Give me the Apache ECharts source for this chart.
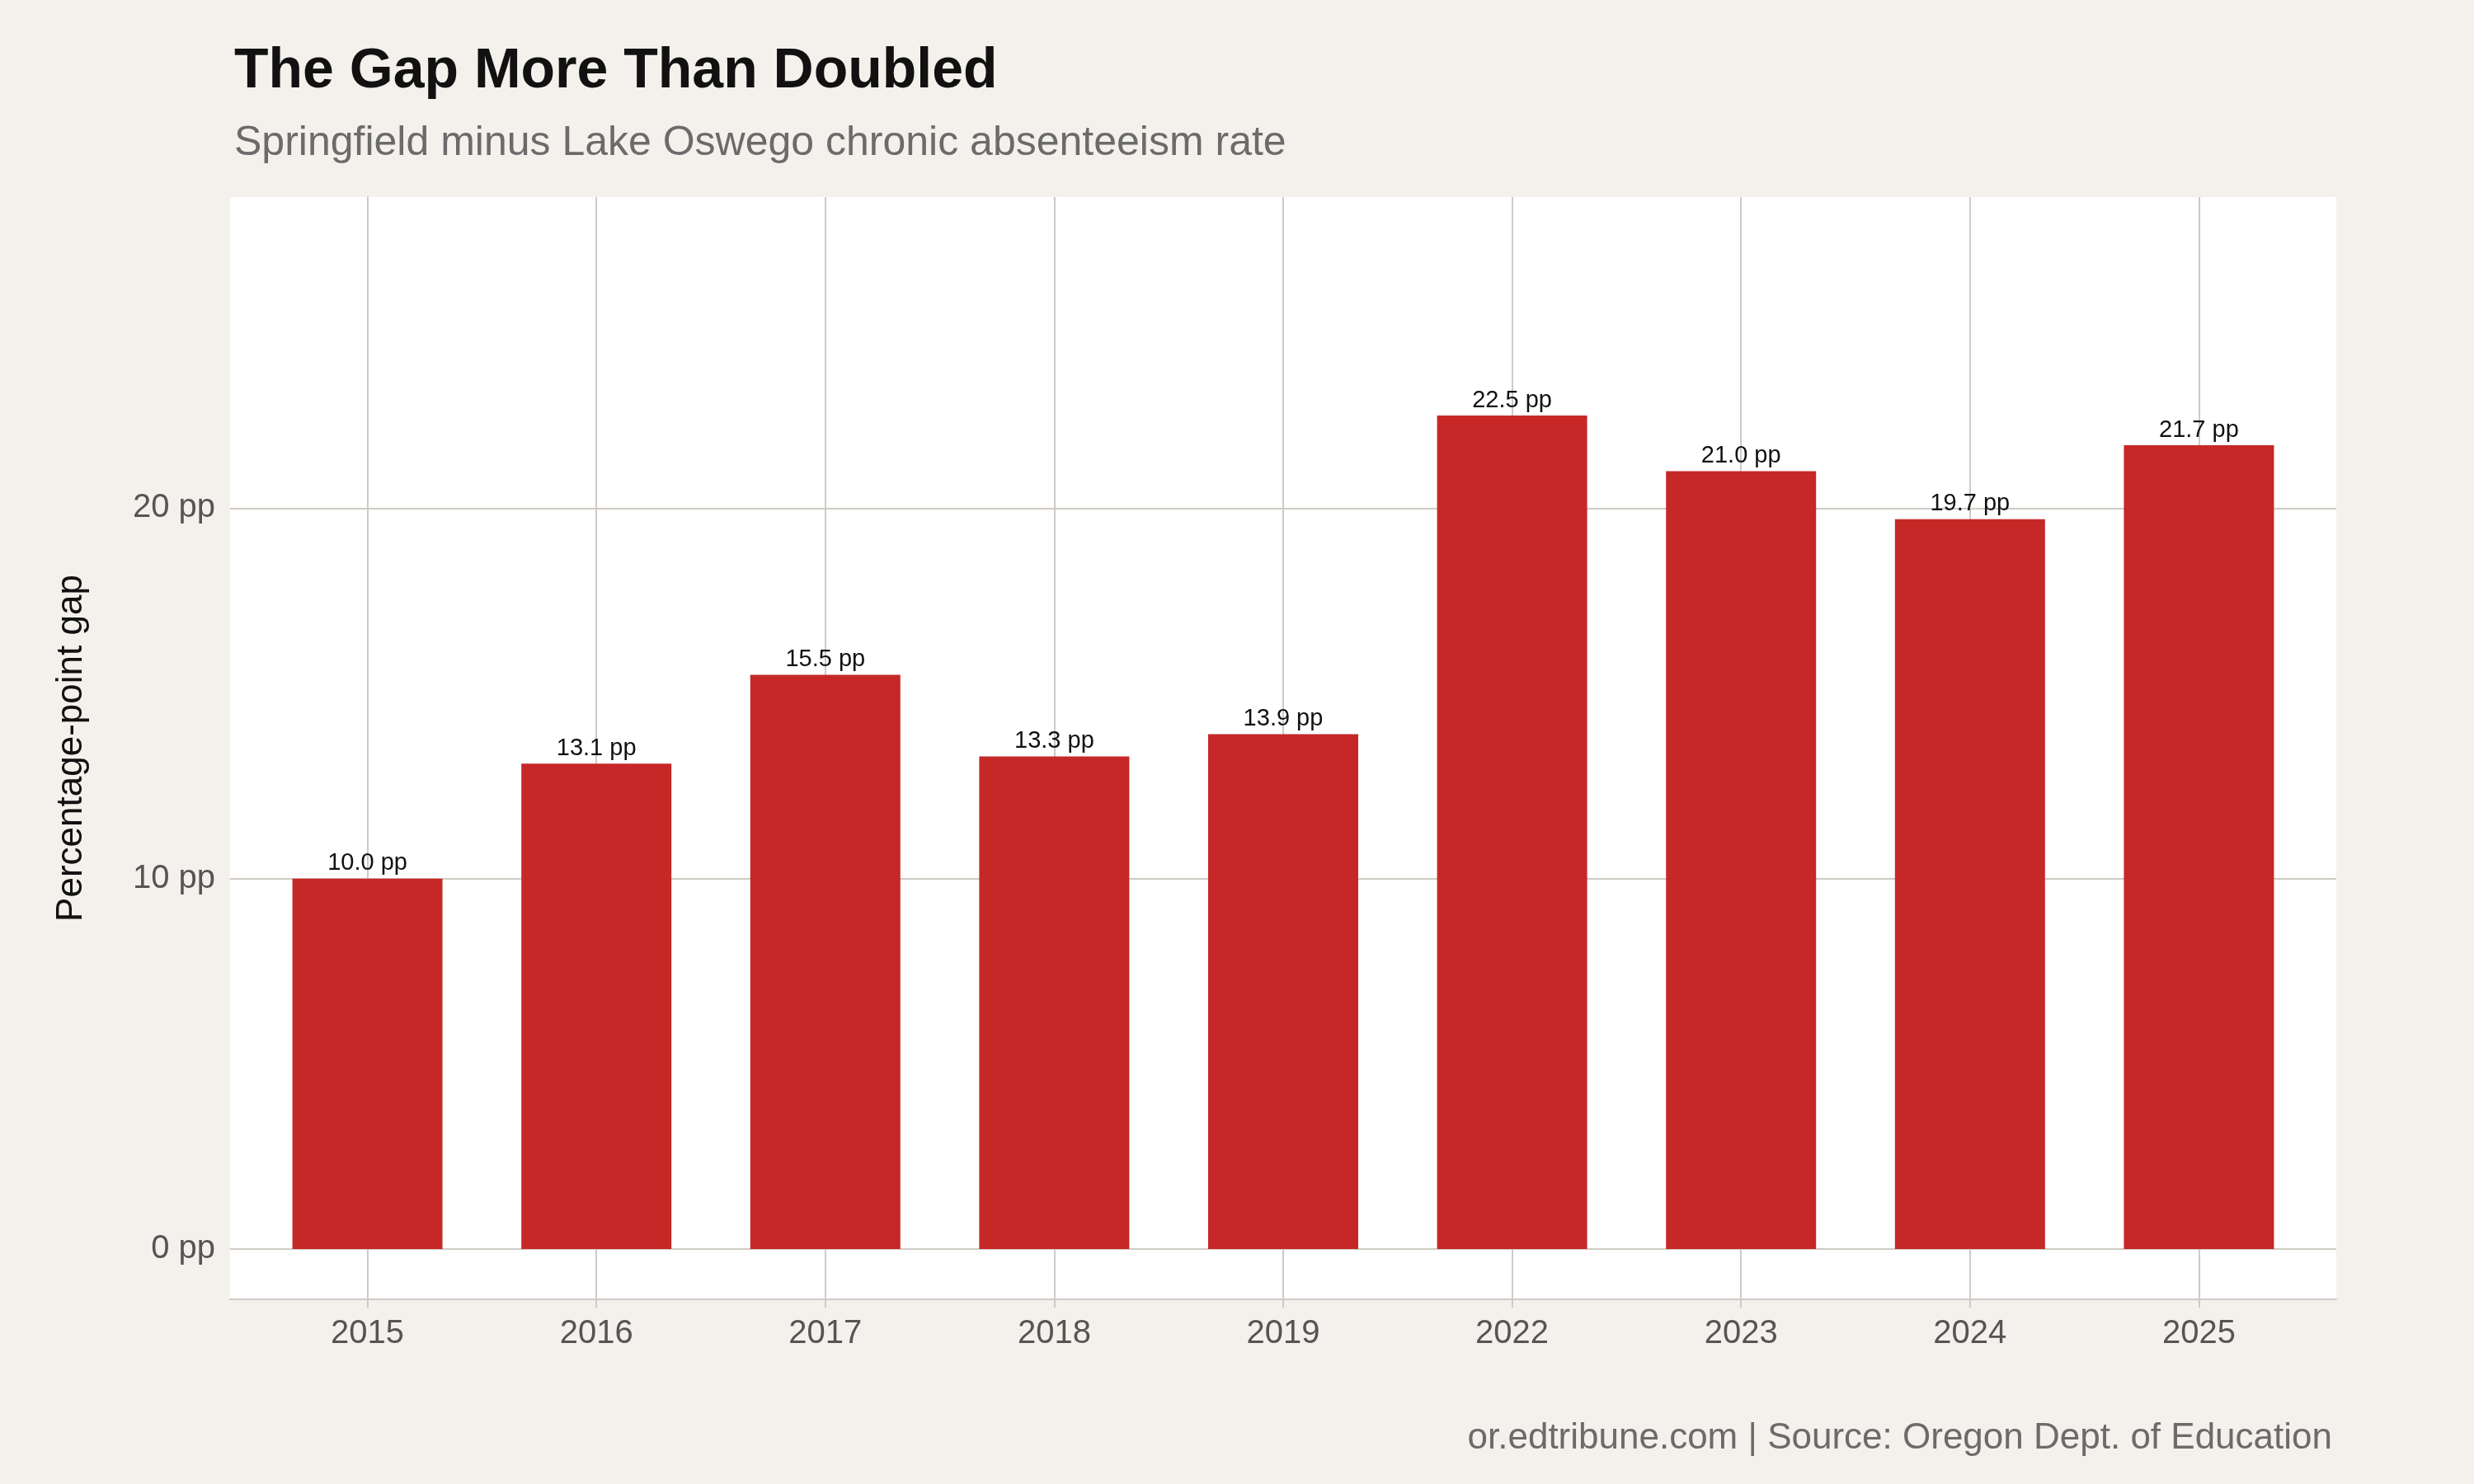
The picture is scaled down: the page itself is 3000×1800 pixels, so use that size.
<!DOCTYPE html>
<html><head><meta charset="utf-8">
<script src="https://cdn.jsdelivr.net/npm/echarts@6/dist/echarts.min.js"></script>
<style>html,body{margin:0;padding:0;background:#f4f1ec}#c{width:3000px;height:1800px}</style>
</head><body><div id="c"></div>
<script>
const categories = ['2015','2016','2017','2018','2019','2022','2023','2024','2025'];
const gapValues = [10.0,13.1,15.5,13.3,13.9,22.5,21.0,19.7,21.7];
const yTicks = [0,10,20];

const F = 'Liberation Sans, Arial, Helvetica, sans-serif';
const grid = '#cfcbc4';
const chart = echarts.init(document.getElementById('c'));
const xIdx = categories.map((c,i)=>i);
chart.setOption({
  backgroundColor:'#f4f1ec',
  animation:false,
  textStyle:{fontFamily:F},
  title:[
    {text:'The Gap More Than Doubled',left:279,top:48,textStyle:{fontSize:68,fontWeight:'bold',color:'#111',fontFamily:F}},
    {text:'Springfield minus Lake Oswego chronic absenteeism rate',left:279,top:144,textStyle:{fontSize:50,fontWeight:'normal',color:'#6b6b6b',fontFamily:F}},
    {text:'or.edtribune.com | Source: Oregon Dept. of Education',right:167,top:1718,textStyle:{fontSize:44,fontWeight:'normal',color:'#6b6b6b',fontFamily:F}}
  ],
  grid:{left:279,right:167,top:239,bottom:224,backgroundColor:'#fff',show:true,borderWidth:0},
  xAxis:{type:'value',min:-0.6,max:8.6,
    axisLine:{show:true,onZero:false,lineStyle:{color:grid,width:2}},
    axisTick:{show:true,customValues:xIdx,length:10,lineStyle:{color:grid,width:2}},
    axisLabel:{customValues:xIdx,formatter:v=>categories[Math.round(v)],fontSize:40,color:'#555',margin:22},
    splitLine:{show:false}},
  yAxis:{type:'value',min:-1.36,max:28.4,
    name:'Percentage-point gap',nameLocation:'middle',nameGap:170,
    nameTextStyle:{fontSize:44,color:'#111'},
    axisLine:{show:true,lineStyle:{color:grid,width:2}},
    axisTick:{show:true,customValues:yTicks,length:10,lineStyle:{color:grid,width:2}},
    axisLabel:{customValues:yTicks,formatter:v=>v+' pp',fontSize:40,color:'#555',margin:18},
    splitLine:{show:false}},
  series:[{
    type:'bar',
    data:gapValues.map((v,i)=>[i,v]),
    barWidth:182,
    itemStyle:{color:'#c62828'},
    label:{show:true,position:'top',distance:4,formatter:p=>p.value[1].toFixed(1)+' pp',fontSize:29,color:'#111'},
    z:3,
    markLine:{silent:true,symbol:'none',label:{show:false},z:1,
      lineStyle:{color:grid,width:2,type:'solid'},
      data:[...xIdx.map(i=>({xAxis:i})),...yTicks.map(t=>({yAxis:t}))]}
  }]
});
</script></body></html>
